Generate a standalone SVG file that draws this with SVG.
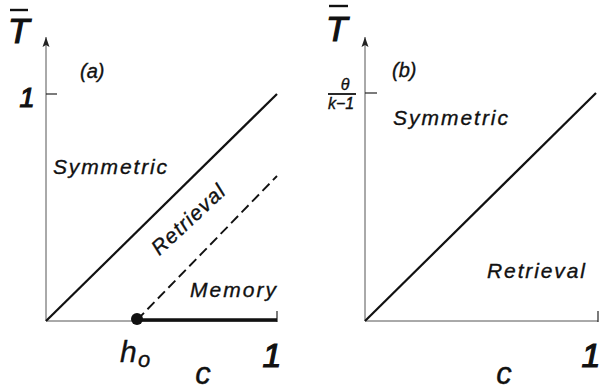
<svg xmlns="http://www.w3.org/2000/svg" width="600" height="391" viewBox="0 0 600 391">
<defs>
<marker id="arr" viewBox="0 0 10 10" refX="10" refY="5" markerWidth="10" markerHeight="10" markerUnits="userSpaceOnUse" orient="auto">
<path d="M0,1.5 L10,5 L0,8.5 L2,5 Z" fill="#222"/>
</marker>
<style>
text{font-family:"Liberation Sans",Arial,sans-serif;font-style:italic;fill:#111;stroke:#111;stroke-width:0.35}
.axis{stroke:#555;stroke-width:1;fill:none}
.tick{stroke:#222;stroke-width:1.2}
.diag{stroke:#111;stroke-width:2.2;fill:none}
.dash{stroke:#111;stroke-width:1.9;stroke-dasharray:10 5;fill:none}
.lbl{font-size:21px}
.one{stroke-width:1.2}
</style>
</defs>
<rect width="600" height="391" fill="#fff"/>
<g id="panel-a">
<g id="axes-a">
<line class="axis" x1="46" y1="321" x2="46" y2="37" marker-end="url(#arr)"/>
<line class="axis" x1="46" y1="321" x2="277" y2="321"/>
<line class="tick" x1="46" y1="94" x2="57" y2="94"/>
<line class="tick" x1="277" y1="311" x2="277" y2="322"/>
</g>
<g id="connectors-a">
<line class="diag" x1="46" y1="321" x2="277" y2="94"/>
<line class="dash" x1="137" y1="320" x2="277" y2="176"/>
<line stroke="#111" stroke-width="3.6" x1="137" y1="320" x2="277" y2="320"/>
<circle cx="137" cy="319" r="6" fill="#111"/>
</g>
<g id="labels-a">
<line stroke="#111" stroke-width="2.4" x1="10" y1="10" x2="28" y2="10"/>
<text x="8" y="43" font-size="35" style="stroke-width:1.2">T</text>
<text class="one" x="27" y="107" font-size="27" text-anchor="middle">1</text>
<text x="80" y="78" font-size="20">(a)</text>
<text class="lbl" x="53" y="174" textLength="114" lengthAdjust="spacing">Symmetric</text>
<text class="lbl" transform="translate(193,225) rotate(-43)" text-anchor="middle" textLength="92" lengthAdjust="spacing">Retrieval</text>
<text class="lbl" x="190" y="297" textLength="86" lengthAdjust="spacing">Memory</text>
<text x="120" y="362" font-size="30">h</text>
<text x="138" y="367" font-size="22">o</text>
<text x="203" y="384" font-size="31" text-anchor="middle">c</text>
<text class="one" x="272" y="367" font-size="34" text-anchor="middle">1</text>
</g>
</g>
<g id="panel-b">
<g id="axes-b">
<line class="axis" x1="365" y1="321" x2="365" y2="37" marker-end="url(#arr)"/>
<line class="axis" x1="365" y1="321" x2="598" y2="321"/>
<line class="tick" x1="365" y1="93" x2="377" y2="93"/>
<line class="tick" x1="598" y1="311" x2="598" y2="322"/>
</g>
<g id="connectors-b">
<line class="diag" x1="365" y1="321" x2="596" y2="93"/>
</g>
<g id="labels-b">
<line stroke="#111" stroke-width="2.4" x1="329" y1="6" x2="348" y2="6"/>
<text x="326" y="41" font-size="35" style="stroke-width:1.2">T</text>
<text x="345" y="90" font-size="16" text-anchor="middle">θ</text>
<line stroke="#111" stroke-width="1.8" x1="328" y1="94" x2="356" y2="94"/>
<text x="341" y="109" font-size="16" text-anchor="middle">k−1</text>
<text x="392" y="77" font-size="20">(b)</text>
<text class="lbl" x="393" y="125" textLength="115" lengthAdjust="spacing">Symmetric</text>
<text class="lbl" x="487" y="278" textLength="98" lengthAdjust="spacing">Retrieval</text>
<text x="504" y="384" font-size="31" text-anchor="middle">c</text>
<text class="one" x="591" y="367" font-size="34" text-anchor="middle">1</text>
</g>
</g>
</svg>
